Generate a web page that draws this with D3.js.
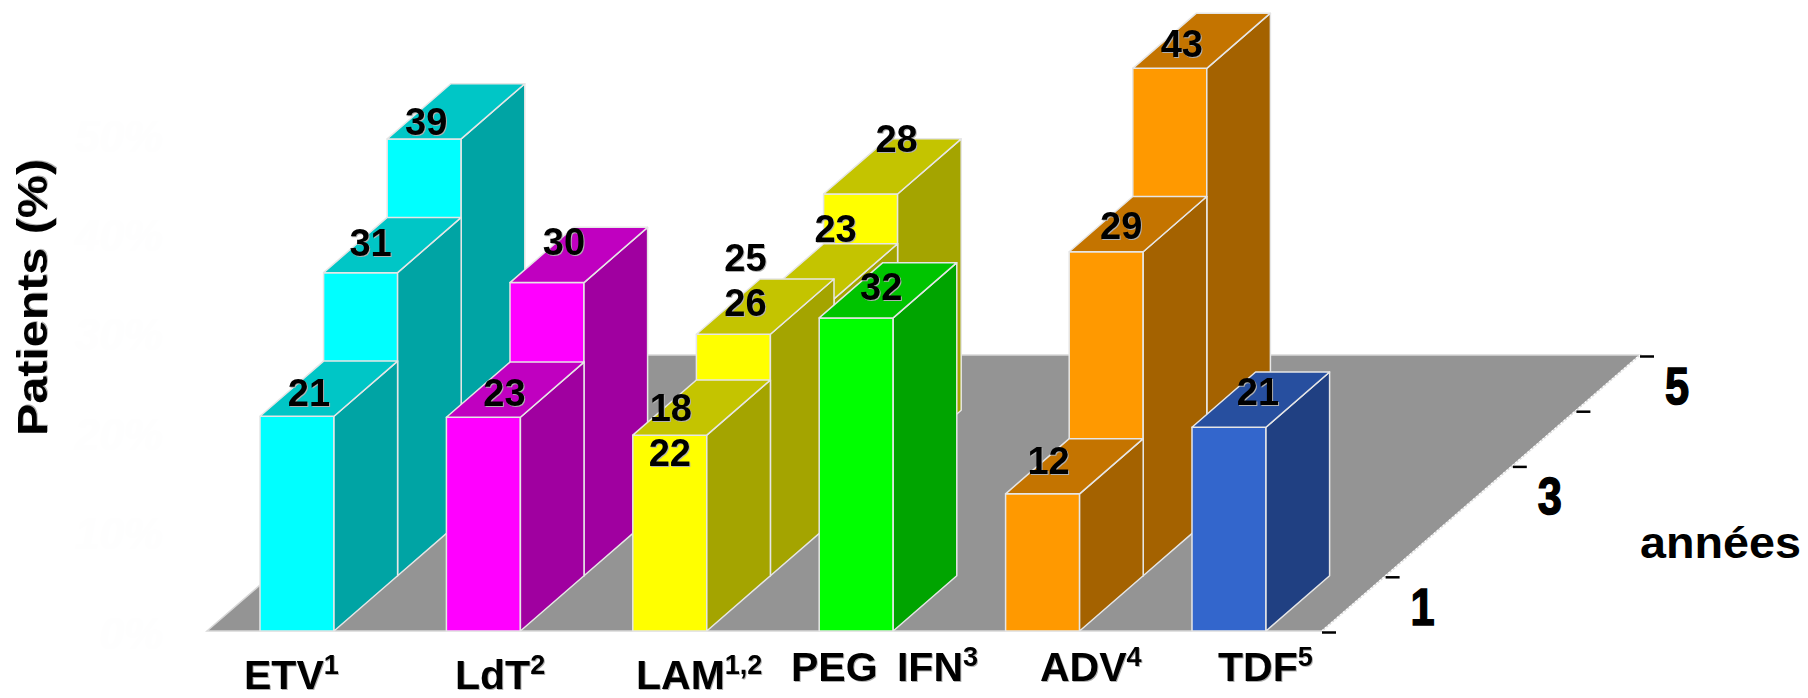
<!DOCTYPE html>
<html>
<head>
<meta charset="utf-8">
<script src="https://cdn.jsdelivr.net/npm/d3@7"></script>
<style>
  html, body { margin: 0; background: #fff; }
  svg { display: block; }
  text { font-family: "Liberation Sans", Arial, sans-serif; font-weight: bold; }
  .shadow { filter: drop-shadow(1.5px 1.5px 0 #b0b0b0); }
</style>
</head>
<body>
<div id="chart"></div>
<script>
const categories = ["ETV", "LdT", "LAM", "PEG IFN", "ADV", "TDF"];
const superscripts = ["1", "2", "1,2", "3", "4", "5"];

// years each drug has a bar for
const etvYears = [1, 2, 3];
const ldtYears = [1, 2];
const lamYears = [1, 2, 3, 4];
const pegYears = [1];
const advYears = [1, 2, 3];
const tdfYears = [1];

// bar heights, in % of the hidden axis (not always the printed number)
const etvHeights = [21.6, 30.5, 38.4];
const ldtHeights = [21.5, 29.5];
const lamHeights = [19.7, 24.3, 22.3, 27.3];
const pegHeights = [31.5];
const advHeights = [13.8, 32.6, 45.5];
const tdfHeights = [20.5];

// printed numbers, [category, year, text]
const valueLabels = [
  ["ETV", 1, "21"], ["ETV", 2, "31"], ["ETV", 3, "39"],
  ["LdT", 1, "23"], ["LdT", 2, "30"],
  ["LAM", 1, "18"], ["LAM", 1, "22"], ["LAM", 2, "25"], ["LAM", 2, "26"],
  ["LAM", 4, "23"], ["LAM", 4, "28"],
  ["PEG IFN", 1, "32"],
  ["ADV", 1, "12"], ["ADV", 2, "29"], ["ADV", 3, "43"],
  ["TDF", 1, "21"],
];

const yTicks = [0, 10, 20, 30, 40, 50];
const yearTicks = [0, 1, 3, 4, 5];
const yearLabels = [1, 3, 5];

// layout
const width = 1808;
const height = 698;
const labelNudges = [
  [49, -10], [47, -17], [39, -4],
  [58, -11], [54, -28],
  [38, -14], [37, 31], [49, -63], [49, -18],
  [12, 48], [73, -42],
  [62, -18],
  [43, -20], [52, -13], [49, -11],
  [66, -22],
];
const catLabelPos = [[244, 689], [455, 689], [636, 689], [791, 681], [1040, 681], [1218, 681]];

const palette = [
  { front: "#00ffff", top: "#00c6c6", side: "#00a4a4" },
  { front: "#ff00ff", top: "#c000c0", side: "#a000a0" },
  { front: "#ffff00", top: "#c4c400", side: "#a4a400" },
  { front: "#00ff00", top: "#00c400", side: "#00a400" },
  { front: "#ff9900", top: "#c47400", side: "#a46200" },
  { front: "#3366cc", top: "#274f9f", side: "#204082" },
];
const edge = "#e6e6e6";

const allYears = [etvYears, ldtYears, lamYears, pegYears, advYears, tdfYears];
const allHeights = [etvHeights, ldtHeights, lamHeights, pegHeights, advHeights, tdfHeights];

const svg = d3.select("#chart").append("svg").attr("width", width).attr("height", height);

const x = d3.scaleBand().domain(categories).range([260, 1266]).paddingInner(0.603).paddingOuter(0).align(0);
const depthX = d3.scaleLinear().domain([0, 5]).range([0, 318]);
const depthY = d3.scaleLinear().domain([0, 5]).range([631, 355]);
const y = d3.scaleLinear().domain([0, 50]).range([634, 137]);
const barLen = (v) => y(0) - y(v);
const barDepth = 1;

const poly = (pts) => pts.map((p) => p.join(",")).join(" ");

// faint value axis, nearly white like the reference
const yAxis = svg.append("g")
  .attr("transform", "translate(166,0)")
  .call(d3.axisLeft(y).tickValues(yTicks).tickSize(0).tickFormat((d) => d + "%"));
yAxis.select(".domain").remove();
yAxis.selectAll("text").attr("fill", "#fefefe").style("font-size", "44px").attr("font-style", "italic");

// floor
const floorPts = [
  [x("ETV") - 53, depthY(0)],
  [1322, depthY(0)],
  [1322 + depthX(5), depthY(5)],
  [x("ETV") - 53 + depthX(5), depthY(5)],
];
svg.append("polygon")
  .attr("points", poly(floorPts))
  .attr("fill", "#949494")
  .attr("stroke", "#d8d8d8")
  .attr("stroke-width", 1.5);
svg.append("line")
  .attr("x1", floorPts[1][0]).attr("y1", floorPts[1][1])
  .attr("x2", floorPts[2][0]).attr("y2", floorPts[2][1])
  .attr("stroke", "#fff").attr("stroke-width", 1.5).attr("stroke-dasharray", "2 2");

// year ticks along the right edge
svg.append("g").selectAll("line")
  .data(yearTicks)
  .join("line")
  .attr("x1", (d) => 1322 + depthX(d))
  .attr("x2", (d) => 1322 + depthX(d) + 14)
  .attr("y1", (d) => depthY(d) + 1.5)
  .attr("y2", (d) => depthY(d) + 1.5)
  .attr("stroke", "#000")
  .attr("stroke-width", 2.5);

svg.append("g").selectAll("text")
  .data(yearLabels)
  .join("text")
  .attr("transform", (d) => `translate(${1322 + depthX(d) + 37},${depthY(d) + 49}) scale(0.85,1)`)
  .attr("text-anchor", "middle")
  .attr("stroke", "#000")
  .attr("stroke-width", 1.5)
  .style("font-size", "51px")
  .text((d) => d);

// bars, back rows first so nearer ones paint over them
let bars = [];
categories.forEach((cat, i) => {
  allYears[i].forEach((yr, j) => {
    bars.push({ cat: cat, c: i, year: yr, v: allHeights[i][j] });
  });
});
bars.sort((a, b) => b.year - a.year || a.c - b.c);

const barG = svg.append("g")
  .selectAll("g")
  .data(bars)
  .join("g")
  .attr("stroke", edge)
  .attr("stroke-width", 1.5)
  .attr("stroke-linejoin", "round");

const geom = (d) => {
  const row = d.year - 1;
  const x0 = x(d.cat) + depthX(row);
  const x1 = x0 + x.bandwidth();
  const base = depthY(row);
  const top = base - barLen(d.v);
  return { x0, x1, base, top, dx: depthX(barDepth), dy: depthY(0) - depthY(barDepth) };
};

barG.append("polygon")
  .attr("fill", (d) => palette[d.c].front)
  .attr("points", (d) => {
    const g = geom(d);
    return poly([[g.x0, g.base], [g.x1, g.base], [g.x1, g.top], [g.x0, g.top]]);
  });
barG.append("polygon")
  .attr("fill", (d) => palette[d.c].side)
  .attr("points", (d) => {
    const g = geom(d);
    return poly([[g.x1, g.base], [g.x1 + g.dx, g.base - g.dy], [g.x1 + g.dx, g.top - g.dy], [g.x1, g.top]]);
  });
barG.append("polygon")
  .attr("fill", (d) => palette[d.c].top)
  .attr("points", (d) => {
    const g = geom(d);
    return poly([[g.x0, g.top], [g.x1, g.top], [g.x1 + g.dx, g.top - g.dy], [g.x0 + g.dx, g.top - g.dy]]);
  });

// printed values
svg.append("g").selectAll("text")
  .data(valueLabels)
  .join("text")
  .attr("class", "shadow")
  .attr("text-anchor", "middle")
  .attr("x", (d, i) => x(d[0]) + depthX(d[1] - 1) + labelNudges[i][0])
  .attr("y", (d, i) => {
    const c = categories.indexOf(d[0]);
    const v = allHeights[c][allYears[c].indexOf(d[1])];
    return depthY(d[1] - 1) - barLen(v) + labelNudges[i][1];
  })
  .attr("fill", "#000")
  .style("font-size", "38px")
  .text((d) => d[2]);

// category labels with superscript
const catText = svg.append("g").selectAll("text")
  .data(categories)
  .join("text")
  .attr("class", "shadow")
  .attr("x", (d, i) => catLabelPos[i][0])
  .attr("y", (d, i) => catLabelPos[i][1])
  .attr("fill", "#000")
  .style("font-size", "41px")
  .style("word-spacing", "8px");
catText.append("tspan").text((d) => d);
catText.append("tspan")
  .attr("dy", -15)
  .style("font-size", "27px")
  .text((d, i) => superscripts[i]);

// axis titles
svg.append("text")
  .attr("class", "shadow")
  .attr("transform", "translate(47,436) rotate(-90)")
  .attr("textLength", 277)
  .attr("lengthAdjust", "spacingAndGlyphs")
  .attr("fill", "#000")
  .style("font-size", "42px")
  .text("Patients (%)");

svg.append("text")
  .attr("x", 1640)
  .attr("y", 558)
  .attr("textLength", 161)
  .attr("lengthAdjust", "spacingAndGlyphs")
  .attr("fill", "#000")
  .style("font-size", "44px")
  .text("années");
</script>
</body>
</html>
